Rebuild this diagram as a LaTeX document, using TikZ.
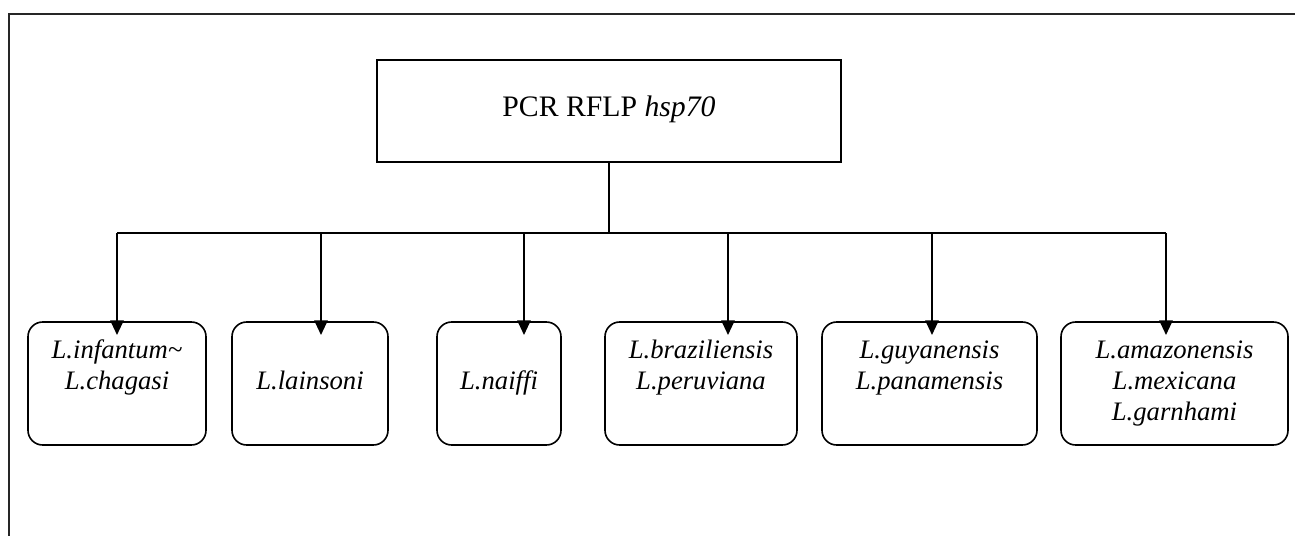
\documentclass[tikz,border=0pt]{standalone}
\usepackage{fontspec}
\setmainfont{Liberation Serif}
\usetikzlibrary{arrows.meta}
\begin{document}
\begin{tikzpicture}[x=0.75pt,y=-0.75pt,
  frame/.style={line width=1.5pt,draw=black!85},
  topbox/.style={draw,line width=1pt,inner sep=0pt,minimum width=348pt,minimum height=76.5pt,
    text height=15pt,text depth=7.5pt,font=\fontsize{22.3}{26}\selectfont},
  child/.style={draw,line width=1.2pt,rounded corners=11pt,inner sep=0pt,align=center,
    minimum height=92.25pt,font=\fontsize{20}{23.25}\selectfont\itshape},
  bus/.style={line width=1.3pt},
  trunk/.style={line width=0.9pt},
  arr/.style={line width=1.3pt,-{Triangle[length=11pt,width=10pt]}}]
\useasboundingbox (0,0) rectangle (1295,536);
% outer frame (top and left visible)
\draw[frame] (1295,14) -- (9,14) -- (9,536);
% top box
\node[topbox] (top) at (609,111) {PCR RFLP \textit{hsp70}};
% child boxes
\node[child,minimum width=133.5pt] (b1) at (117,383.5) {L.infantum\string~\strut\\L.chagasi\strut\\\strut};
\node[child,minimum width=117pt] (b2) at (310,383.5) {L.lainsoni\strut};
\node[child,minimum width=93pt] (b3) at (499,383.5) {L.naiffi\strut};
\node[child,minimum width=144pt] (b4) at (701,383.5) {L.braziliensis\strut\\L.peruviana\strut\\\strut};
\node[child,minimum width=161.25pt] (b5) at (929.5,383.5) {L.guyanensis\strut\\L.panamensis\strut\\\strut};
\node[child,minimum width=170.25pt] (b6) at (1174.5,383.5) {L.amazonensis\strut\\L.mexicana\strut\\L.garnhami\strut};
% connector points
\coordinate (j) at (609,233);
\coordinate (u1) at (117,233);
\coordinate (u2) at (321,233);
\coordinate (u3) at (524,233);
\coordinate (u4) at (728,233);
\coordinate (u5) at (932,233);
\coordinate (u6) at (1166,233);
\coordinate (t1) at (117,335);
\coordinate (t2) at (321,335);
\coordinate (t3) at (524,335);
\coordinate (t4) at (728,335);
\coordinate (t5) at (932,335);
\coordinate (t6) at (1166,335);
% connectors
\draw[trunk] (top.south) -- (j);
\draw[bus] (u1) -- (u6);
\draw[arr] (u1) -- (t1);
\draw[arr] (u2) -- (t2);
\draw[arr] (u3) -- (t3);
\draw[arr] (u4) -- (t4);
\draw[arr] (u5) -- (t5);
\draw[arr] (u6) -- (t6);
\end{tikzpicture}
\end{document}
